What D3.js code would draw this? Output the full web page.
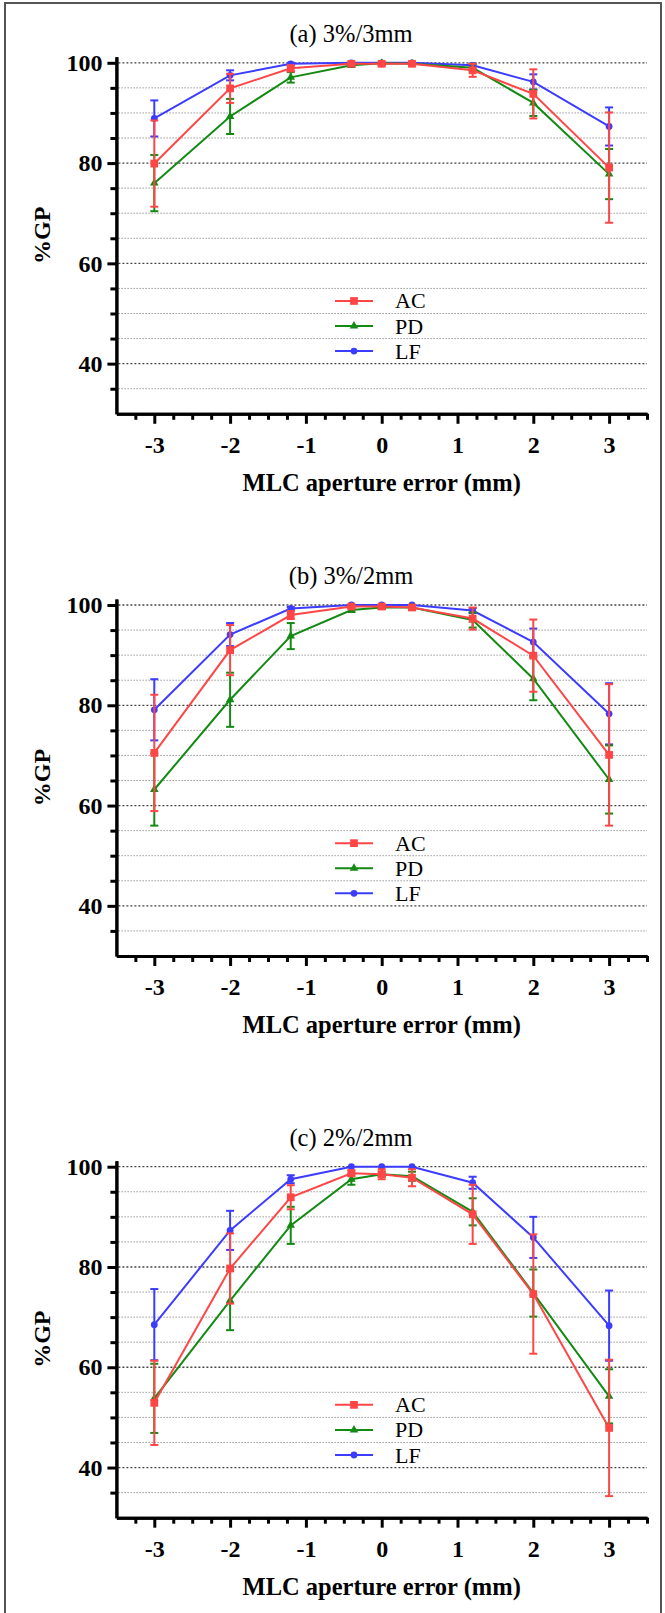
<!DOCTYPE html>
<html>
<head>
<meta charset="utf-8">
<script src="https://cdn.jsdelivr.net/npm/d3@7"></script>
<style>
    html, body { margin: 0; padding: 0; background: #fff; }
    svg { display: block; }
    svg text { font-family: 'Liberation Serif', 'Times New Roman', Times, serif; }
</style>
</head>
<body>
<svg id="chart" width="665" height="1613"></svg>
<script>
// ── Data ────────────────────────────────────────────────────────────────────

const xValues = [-3, -2, -1.2, -0.4, 0, 0.4, 1.2, 2, 3];
const xTickValues = [-3, -2, -1, 0, 1, 2, 3];
const yTickValues = [40, 60, 80, 100];
const seriesNames = ['AC', 'PD', 'LF'];
const panelTitles = ['(a) 3%/3mm', '(b) 3%/2mm', '(c) 2%/2mm'];

// (a) 3%/3mm
const acA = [79.9, 94.9, 98.9, 99.8, 99.8, 99.8, 98.5, 93.8, 79.1];
const acAErr = [8.6, 2.9, 0.6, 0.3, 0.3, 0.3, 1.3, 4.9, 11.0];
const pdA = [76.0, 89.3, 97.1, 99.5, 99.9, 99.8, 99.0, 92.0, 77.8];
const pdAErr = [5.6, 3.5, 1.05, 0.3, 0.1, 0.2, 0.8, 2.6, 5.0];
const lfA = [88.9, 97.5, 99.8, 100, 100, 100, 99.5, 96.2, 87.3];
const lfAErr = [3.6, 1.0, 0.2, 0, 0, 0, 0.3, 1.5, 3.8];

// (b) 3%/2mm
const acB = [70.5, 91.0, 98.0, 99.7, 99.7, 99.5, 97.3, 89.9, 70.1];
const acBErr = [11.6, 5.0, 0.8, 0.3, 0.3, 0.4, 2.2, 7.2, 14.1];
const pdB = [63.2, 81.1, 93.8, 99.0, 99.5, 99.5, 97.0, 85.3, 65.2];
const pdBErr = [7.2, 5.4, 2.6, 0.4, 0.3, 0.4, 1.5, 4.3, 6.8];
const lfB = [79.1, 94.1, 99.3, 100, 100, 100, 98.9, 92.6, 78.3];
const lfBErr = [6.1, 2.3, 0.3, 0, 0, 0, 0.5, 2.7, 6.1];

// (c) 2%/2mm
const acC = [52.9, 79.7, 93.9, 98.7, 98.5, 97.8, 90.5, 74.6, 47.9];
const acCErr = [8.4, 7.0, 2.4, 0.6, 1.0, 1.7, 5.9, 11.9, 13.6];
const pdC = [53.8, 73.3, 88.3, 97.5, 98.5, 98.1, 91.0, 74.8, 54.2];
const pdCErr = [6.9, 5.9, 3.7, 1.1, 0.5, 0.9, 2.7, 4.7, 5.4];
const lfC = [68.5, 87.3, 97.5, 100, 100, 100, 96.8, 85.9, 68.3];
const lfCErr = [7.1, 3.9, 0.8, 0, 0, 0, 1.2, 4.1, 7.0];

// ── Layout / style ──────────────────────────────────────────────────────────

const FONT = "'Liberation Serif', 'Times New Roman', Times, serif";
const COLORS = { AC: '#ff4646', PD: '#138a13', LF: '#3c3cff' };
const SYMBOLS = { AC: d3.symbolSquare, PD: d3.symbolTriangle, LF: d3.symbolCircle };
const SYMBOL_SIZE = { AC: 60, PD: 32, LF: 36 };
const DRAW_ORDER = ['LF', 'PD', 'AC'];

const X_DOMAIN = [-3.5, 3.5];
const Y_DOMAIN = [30, 101.2];
const PLOT_LEFT = 116.4;
const PLOT_RIGHT = 647;
const PX_PER_UNIT = 5.014;
const PANEL_Y100 = [62.8, 605, 1166.7];
const TITLE_X = 351;

const svg = d3.select('#chart').attr('font-family', FONT);

// figure frame
svg.append('path')
    .attr('d', 'M5,1613 V3 H661 V1613')
    .attr('fill', 'none')
    .attr('stroke', '#555')
    .attr('stroke-width', 2);

const panels = [
    { title: panelTitles[0], series: { AC: [acA, acAErr], PD: [pdA, pdAErr], LF: [lfA, lfAErr] } },
    { title: panelTitles[1], series: { AC: [acB, acBErr], PD: [pdB, pdBErr], LF: [lfB, lfBErr] } },
    { title: panelTitles[2], series: { AC: [acC, acCErr], PD: [pdC, pdCErr], LF: [lfC, lfCErr] } }
];

function styleAxis(sel) {
    sel.attr('font-family', FONT);
    sel.select('.domain').attr('stroke', '#000').attr('stroke-width', 3);
    sel.selectAll('.tick line').attr('stroke', '#000').attr('stroke-width', 3);
    sel.selectAll('.tick text')
        .attr('fill', '#000')
        .attr('font-size', 24)
        .attr('font-weight', 'bold')
        .attr('font-family', FONT);
}

function drawPanel(panel, i) {
    const y100 = PANEL_Y100[i];
    const yBottom = y100 + (100 - Y_DOMAIN[0]) * PX_PER_UNIT;
    const yTop = y100 - (Y_DOMAIN[1] - 100) * PX_PER_UNIT;

    const x = d3.scaleLinear().domain(X_DOMAIN).range([PLOT_LEFT, PLOT_RIGHT]);
    const y = d3.scaleLinear().domain(Y_DOMAIN).range([yBottom, yTop]);

    const g = svg.append('g').attr('class', 'panel');

    // gridlines every 5
    const gridVals = d3.range(35, 101, 5);
    g.selectAll('.grid')
        .data(gridVals)
        .join('line')
        .attr('x1', x(X_DOMAIN[0]) + 2)
        .attr('x2', x(X_DOMAIN[1]))
        .attr('y1', d => y(d))
        .attr('y2', d => y(d))
        .attr('stroke', d => d % 20 === 0 ? '#444' : '#9a9a9a')
        .attr('stroke-width', d => d % 20 === 0 ? 1.3 : 1)
        .attr('stroke-dasharray', d => d % 20 === 0 ? '2,2' : '1.5,1.5');

    // title
    g.append('text')
        .attr('x', TITLE_X)
        .attr('y', y(100) - 29.5)
        .attr('text-anchor', 'middle')
        .attr('dominant-baseline', 'central')
        .attr('font-family', FONT)
        .attr('font-size', 24.5)
        .text(panel.title);

    // y axis: minor then major
    const yMinor = gridVals.filter(v => v % 20 !== 0);
    g.append('g')
        .attr('transform', `translate(${PLOT_LEFT},0)`)
        .call(d3.axisLeft(y).tickValues(yMinor).tickSize(6).tickSizeOuter(0).tickFormat(''))
        .call(styleAxis);
    g.append('g')
        .attr('transform', `translate(${PLOT_LEFT},0)`)
        .call(d3.axisLeft(y).tickValues(yTickValues).tickSize(9).tickSizeOuter(0).tickPadding(5)
            .tickFormat(d => String(d)))
        .call(styleAxis);

    // x axis: minor ticks every 0.25, major at integers
    const xMinor = d3.range(-13, 15).map(k => k * 0.25).filter(v => !Number.isInteger(v) || Math.abs(v) > 3);
    g.append('g')
        .attr('transform', `translate(0,${yBottom})`)
        .call(d3.axisBottom(x).tickValues(xMinor).tickSize(6).tickSizeOuter(0).tickFormat(''))
        .call(styleAxis);
    g.append('g')
        .attr('transform', `translate(0,${yBottom})`)
        .call(d3.axisBottom(x).tickValues(xTickValues).tickSize(10).tickSizeOuter(0).tickPadding(12)
            .tickFormat(d => String(d)))
        .call(styleAxis);

    // axis titles
    g.append('text')
        .attr('x', x(0))
        .attr('y', yBottom + 69)
        .attr('text-anchor', 'middle')
        .attr('dominant-baseline', 'central')
        .attr('font-family', FONT)
        .attr('font-size', 24.5)
        .attr('font-weight', 'bold')
        .text('MLC aperture error (mm)');

    g.append('text')
        .attr('transform', `translate(42,${(yTop + yBottom) / 2}) rotate(-90)`)
        .attr('text-anchor', 'middle')
        .attr('dominant-baseline', 'central')
        .attr('font-family', FONT)
        .attr('font-size', 24)
        .attr('font-weight', 'bold')
        .text('%GP');

    // series
    const line = d3.line().x(d => x(d.x)).y(d => y(d.v));
    DRAW_ORDER.forEach(name => {
        const [vals, errs] = panel.series[name];
        const pts = xValues.map((xv, k) => ({ x: xv, v: vals[k], e: errs[k] }));
        const color = COLORS[name];
        const sg = g.append('g').attr('class', `series-${name}`);

        sg.append('path')
            .datum(pts)
            .attr('fill', 'none')
            .attr('stroke', color)
            .attr('stroke-width', 2)
            .attr('d', line);

        const eb = sg.selectAll('.err')
            .data(pts.filter(d => d.e > 0))
            .join('g')
            .attr('stroke', color)
            .attr('stroke-width', 2);
        eb.append('line')
            .attr('x1', d => x(d.x)).attr('x2', d => x(d.x))
            .attr('y1', d => y(d.v - d.e)).attr('y2', d => y(d.v + d.e));
        eb.append('line')
            .attr('x1', d => x(d.x) - 4).attr('x2', d => x(d.x) + 4)
            .attr('y1', d => y(d.v + d.e)).attr('y2', d => y(d.v + d.e));
        eb.append('line')
            .attr('x1', d => x(d.x) - 4).attr('x2', d => x(d.x) + 4)
            .attr('y1', d => y(d.v - d.e)).attr('y2', d => y(d.v - d.e));

        sg.selectAll('.mark')
            .data(pts)
            .join('path')
            .attr('transform', d => `translate(${x(d.x)},${y(d.v)})`)
            .attr('d', d3.symbol().type(SYMBOLS[name]).size(SYMBOL_SIZE[name]))
            .attr('fill', color);
    });

    // legend
    const legendRows = [52.5, 47.5, 42.5];
    seriesNames.forEach((name, k) => {
        const ly = y(legendRows[k]);
        const lg = g.append('g');
        lg.append('line')
            .attr('x1', 335).attr('x2', 373)
            .attr('y1', ly).attr('y2', ly)
            .attr('stroke', COLORS[name])
            .attr('stroke-width', 2);
        lg.append('path')
            .attr('transform', `translate(354,${ly})`)
            .attr('d', d3.symbol().type(SYMBOLS[name]).size(SYMBOL_SIZE[name]))
            .attr('fill', COLORS[name]);
        lg.append('text')
            .attr('x', 395)
            .attr('y', ly)
            .attr('dominant-baseline', 'central')
            .attr('font-family', FONT)
            .attr('font-size', 22)
            .text(name);
    });
}

panels.forEach(drawPanel);
</script>
</body>
</html>
